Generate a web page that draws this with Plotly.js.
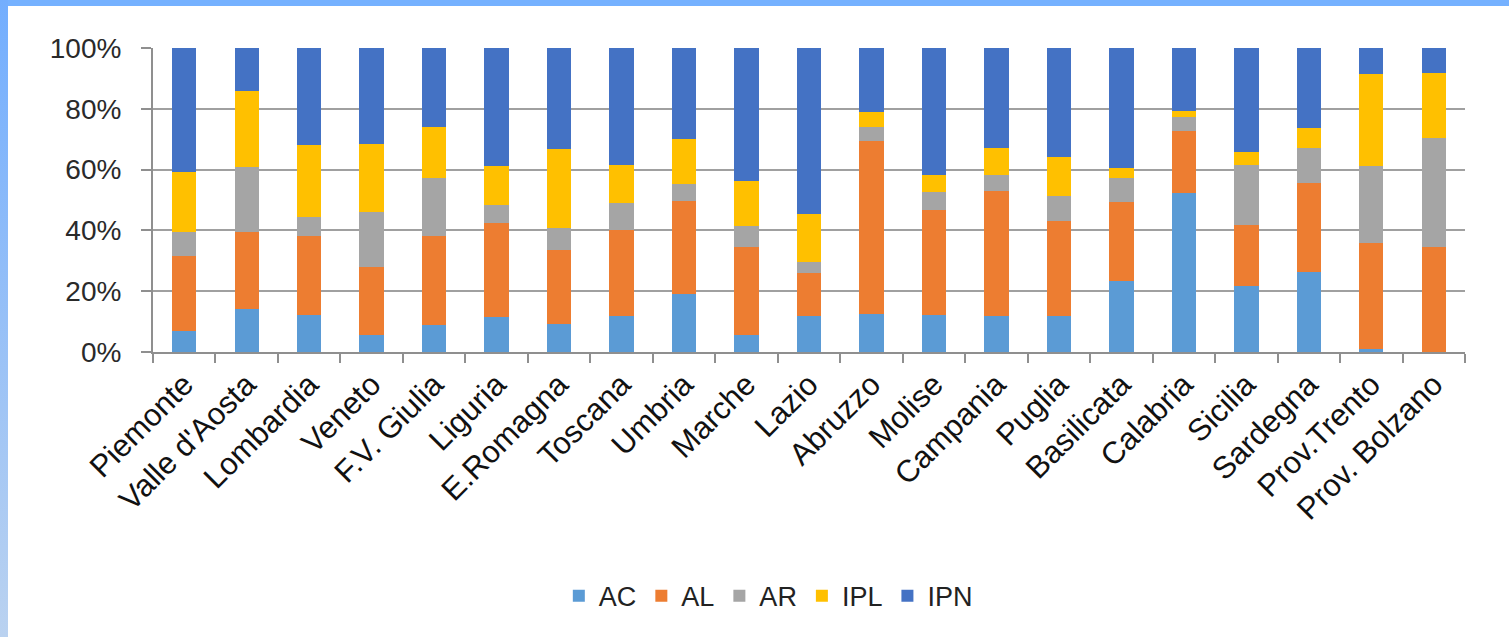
<!DOCTYPE html>
<html>
<head>
<meta charset="utf-8">
<script src="https://cdn.plot.ly/plotly-3.0.1.min.js"></script>
<style>
  html, body { margin: 0; padding: 0; background: #ffffff; }
  #wrap { position: relative; width: 1509px; height: 637px; overflow: hidden; background: #ffffff; }
  #chart { position: absolute; left: 0; top: 0; width: 1509px; height: 637px; }
  #topband { position: absolute; left: 0; top: 0; width: 1509px; height: 6px; background: #75b1ff; z-index: 5; }
  #leftband { position: absolute; left: 0; top: 0; width: 8px; height: 637px; background: linear-gradient(#73aefe, #bad2f0); z-index: 5; }
</style>
</head>
<body>
<div id="wrap">
  <div id="chart"></div>
  <div id="topband"></div>
  <div id="leftband"></div>
</div>
<script>
const categories = ["Piemonte", "Valle d'Aosta", "Lombardia", "Veneto", "F.V. Giulia", "Liguria", "E.Romagna",
  "Toscana", "Umbria", "Marche", "Lazio", "Abruzzo", "Molise", "Campania", "Puglia", "Basilicata",
  "Calabria", "Sicilia", "Sardegna", "Prov.Trento", "Prov. Bolzano"];

const AC  = [6.8, 14.1, 12.1, 5.5, 8.8, 11.5, 9.3, 11.7, 19.2, 5.5, 11.7, 12.5, 12.3, 12.0, 11.7, 23.2, 52.3, 21.6, 26.2, 1.0, 0];
const AL  = [24.7, 25.4, 26.2, 22.5, 29.2, 30.9, 24.4, 28.5, 30.6, 29.0, 14.3, 56.8, 34.5, 41.1, 31.5, 26.0, 20.5, 20.3, 29.4, 35.0, 34.4];
const AR  = [8.0, 21.2, 6.1, 18.2, 19.2, 6.1, 7.2, 8.9, 5.5, 6.8, 3.7, 4.7, 5.9, 5.0, 8.0, 8.0, 4.5, 19.7, 11.6, 25.1, 36.0];
const IPL = [19.6, 25.3, 23.8, 22.2, 16.8, 12.6, 26.0, 12.3, 14.7, 14.8, 15.7, 4.8, 5.6, 9.0, 12.8, 3.2, 2.0, 4.1, 6.5, 30.5, 21.5];
const IPN = [40.9, 14.0, 31.8, 31.6, 26.0, 38.9, 33.1, 38.6, 30.0, 43.9, 54.6, 21.2, 41.7, 32.9, 36.0, 39.6, 20.7, 34.3, 26.3, 8.4, 8.1];

const seriesNames = ["AC", "AL", "AR", "IPL", "IPN"];
const seriesValues = [AC, AL, AR, IPL, IPN];
const seriesColors = ["#5b9bd5", "#ed7d31", "#a5a5a5", "#ffc000", "#4472c4"];

const traces = seriesNames.map((name, i) => ({
  type: "bar",
  name: name,
  x: categories,
  y: seriesValues[i],
  marker: { color: seriesColors[i], line: { width: 0 } },
  hoverinfo: "skip"
}));

const fontFamily = "Liberation Sans, Arial, sans-serif";

const layout = {
  width: 1509,
  height: 637,
  margin: { l: 153, r: 44, t: 48, b: 285, pad: 0 },
  paper_bgcolor: "#ffffff",
  plot_bgcolor: "#ffffff",
  barmode: "stack",
  barnorm: "percent",
  bargap: 0.61,
  showlegend: true,
  legend: {
    orientation: "h",
    x: 0.469, xanchor: "center",
    y: -0.803, yanchor: "middle",
    font: { family: fontFamily, size: 27, color: "#222222" },
    itemwidth: 30,
    itemgap: 31,
    traceorder: "normal"
  },
  xaxis: {
    type: "category",
    tickangle: -45,
    tickfont: { family: fontFamily, size: 31, color: "#111111" },
    showgrid: false,
    showline: true,
    linecolor: "#8f8f8f",
    linewidth: 2,
    ticks: "outside",
    tickson: "boundaries",
    ticklen: 9,
    tickwidth: 2,
    tickcolor: "#8f8f8f",
    fixedrange: true
  },
  yaxis: {
    range: [0, 100],
    dtick: 20,
    tick0: 0,
    ticksuffix: "%",
    tickfont: { family: fontFamily, size: 28, color: "#2a2a2a" },
    ticklabelstandoff: 14,
    showgrid: true,
    gridcolor: "#a0a0a0",
    gridwidth: 2,
    showline: true,
    linecolor: "#8f8f8f",
    linewidth: 2,
    ticks: "outside",
    ticklen: 10,
    tickwidth: 2,
    tickcolor: "#8f8f8f",
    zeroline: false,
    fixedrange: true
  }
};

Plotly.newPlot("chart", traces, layout, { staticPlot: true, displayModeBar: false });
</script>
</body>
</html>
